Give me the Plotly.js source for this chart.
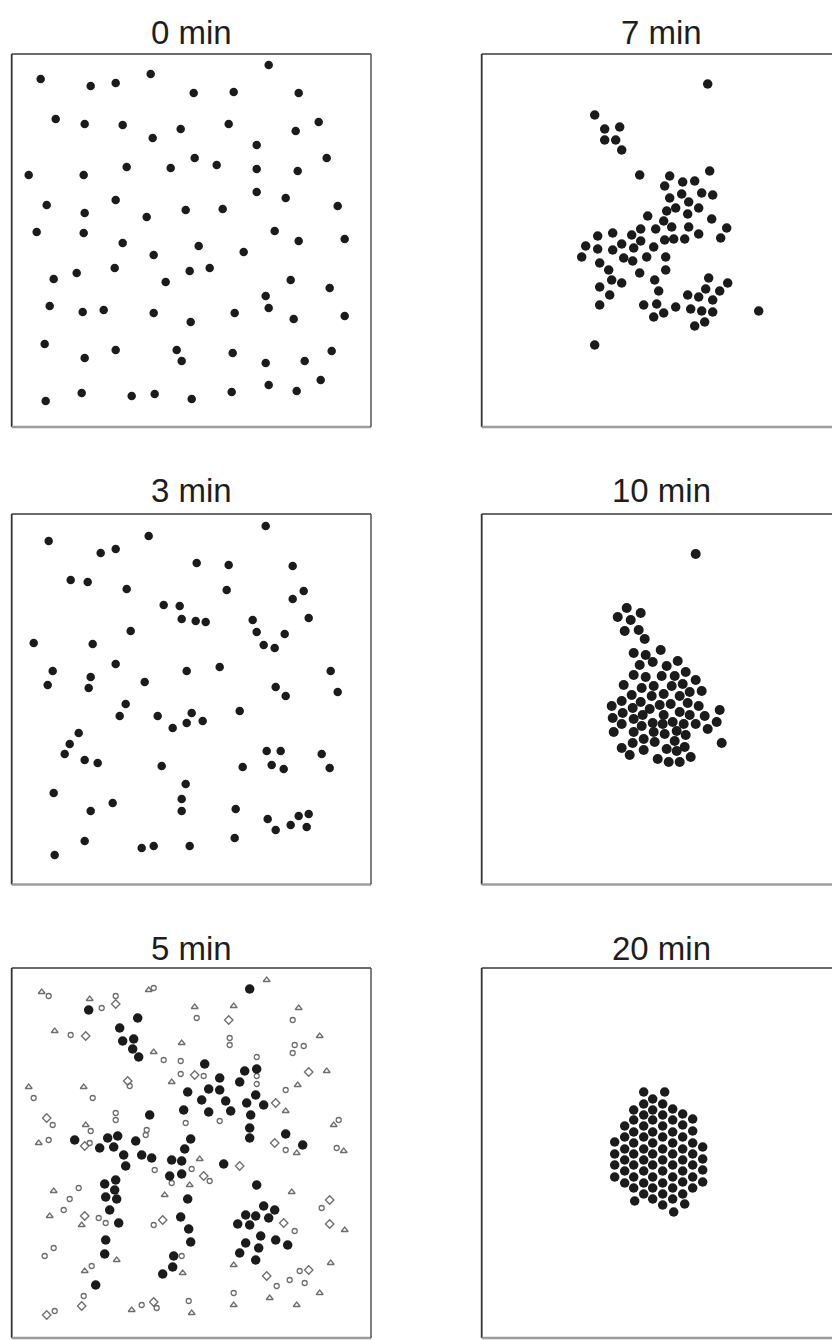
<!DOCTYPE html>
<html>
<head>
<meta charset="utf-8">
<script src="https://cdn.plot.ly/plotly-3.0.1.min.js"></script>
<style>
  html, body { margin: 0; padding: 0; background: #ffffff; overflow: hidden; }
  #chart { width: 832px; height: 1340px; }
</style>
</head>
<body>
<div id="chart"></div>
<script>
// Particle positions (µm from the top-left corner of each field of view)

// 0 min
const min0X = [29,79,104,139,257,182,222,287,44,73,111,169,141,217,284,307,245,183,115,159,
  205,245,286,315,17,72,35,73,104,135,174,211,245,274,326,25,72,111,142,187,
  232,263,287,333,42,65,103,154,178,198,279,318,254,257,38,71,92,142,179,223,
  282,333,33,73,104,165,170,221,254,293,320,309,257,285,34,70,120,143,180,220];
const min0Y = [25,32,29,20,11,39,38,39,65,70,71,75,84,70,77,68,91,104,113,114,
  111,115,117,104,121,121,151,159,146,163,156,155,138,144,152,178,179,189,201,192,
  198,177,187,185,225,219,214,228,217,214,226,234,242,254,252,258,256,259,268,259,
  265,262,290,304,296,296,307,299,309,307,297,326,331,337,347,339,342,340,345,338];

// 3 min
const min3X = [37,89,104,137,254,185,217,281,59,76,115,215,281,292,152,168,170,184,194,241,
  297,119,245,273,252,263,22,81,104,41,36,79,77,133,175,208,319,264,274,326,
  114,108,146,180,175,191,161,228,67,58,53,73,86,150,231,255,269,260,272,310,
  318,42,79,101,174,170,170,224,256,264,279,287,297,295,73,43,130,142,178,223];
const min3Y = [27,39,35,22,12,49,51,52,66,68,75,76,85,77,91,92,105,107,108,106,
  104,117,118,120,131,134,129,130,150,157,171,163,174,168,157,153,157,173,182,178,
  190,202,202,199,209,207,214,197,219,230,240,246,249,252,253,237,237,251,255,240,
  254,279,297,289,270,285,297,295,305,316,311,302,300,313,327,341,334,332,332,324];

// 5 min: current positions
const min5X = [238,77,126,108,111,122,121,127,193,208,233,245,228,197,208,176,190,214,244,235,
  252,197,219,239,172,138,238,238,274,291,63,96,106,88,102,124,179,173,112,130,
  140,160,170,114,158,170,212,93,104,103,94,105,98,107,176,245,169,177,179,94,
  93,162,161,151,84,234,244,252,263,226,238,249,257,234,247,264,276,228,244];
const min5Y = [21,42,50,60,73,71,81,89,96,110,103,101,114,121,122,124,132,133,127,135,
  137,144,143,147,142,147,160,170,166,177,172,170,168,180,179,173,171,181,187,187,
  190,192,193,198,208,206,196,216,212,222,229,231,242,255,231,217,249,261,274,272,
  286,288,299,306,317,247,248,238,242,256,257,268,250,275,280,272,277,285,292];

// 5 min: earlier positions, drawn as small open symbols
const min5TriX = [30,78,137,255,183,222,287,43,170,308,142,72,17,160,286,315,274,74,27,285,
  322,332,188,178,42,153,280,38,70,333,73,105,171,222,319,308,258,285,222,120,180];
const min5TriY = [24,31,22,12,39,38,40,63,75,68,84,119,119,114,117,103,143,157,175,185,
  157,183,191,217,223,227,224,248,257,262,303,292,305,297,295,325,330,337,337,342,345];
const min5RingX = [37,90,104,142,185,281,59,218,218,283,292,281,152,169,245,118,81,22,169,192,
  245,245,274,104,104,41,79,174,208,135,134,37,78,274,327,325,143,180,198,160,
  67,58,52,87,94,142,283,310,33,42,80,170,288,265,278,293,222,72,43,130,145,177];
const min5RingY = [28,40,28,20,50,52,67,70,77,77,78,85,92,93,89,118,130,130,106,108,
  116,108,122,145,152,157,163,155,153,162,167,172,175,182,152,180,202,201,213,215,
  220,231,242,250,255,257,263,240,288,280,298,288,303,318,312,315,325,328,343,337,340,333];
const min5DiamX = [104,217,74,116,183,297,264,35,73,263,228,192,73,151,272,318,318,255,297,70,35,142];
const min5DiamY = [36,52,68,113,107,104,135,150,178,175,198,208,248,252,255,232,256,308,302,338,347,334];

// 7 min
const min7X = [226,113,123,138,123,134,140,277,113,
  158,188,183,201,213,228,188,200,207,220,231,194,185,206,217,166,182,230,190,174,
  207,245,239,217,203,192,183,159,150,131,116,104,116,131,140,159,152,172,100,118,
  142,151,165,184,127,130,140,158,184,173,118,128,177,118,162,175,172,182,194,206,
  217,227,224,238,246,231,209,220,231,213,223];
const min7Y = [30,61,75,73,86,86,96,257,291,
  121,122,132,128,127,117,144,140,148,139,141,154,157,160,154,162,167,165,173,175,
  173,174,184,180,185,185,186,175,181,179,182,192,195,196,190,187,194,193,203,209,
  204,207,203,203,216,226,229,219,216,226,233,241,237,251,251,250,263,259,253,241,
  243,224,235,237,229,246,255,257,258,272,268];

// 10 min
const min10X = [214,145,136,159,149,143,157,163,
  152,164,179,158,171,185,196,152,164,180,193,204,142,160,172,190,201,214,150,170,
  182,198,208,220,130,140,151,159,168,178,189,206,217,238,131,141,152,161,182,198,
  208,223,235,140,160,171,181,191,202,214,226,132,152,172,183,195,204,151,162,173,
  193,240,140,148,162,185,195,203,176,187,198,209];
const min10Y = [40,94,103,99,106,117,116,125,
  139,141,136,151,148,152,147,161,163,162,162,158,171,174,172,172,170,166,181,182,
  180,182,178,177,192,187,194,188,195,191,190,189,192,196,204,199,205,201,201,198,
  201,202,208,210,212,209,210,208,210,210,215,218,218,218,220,217,221,229,225,228,
  227,229,234,241,236,235,237,233,245,248,248,243];

// 20 min
const min20X = [162,183,171,162,181,152,171,191,162,181,201,152,171,191,211,143,162,181,201,
  152,171,191,211,143,162,181,201,133,152,171,191,211,143,162,181,201,221,133,152,171,
  191,211,143,162,181,201,221,133,152,171,191,211,143,162,181,201,221,133,152,171,
  191,211,143,162,181,201,221,152,171,191,211,162,181,201,153,171,191,181,203,192];
const min20Y = [124,124,131,136,136,142,142,141,147,147,146,152,152,152,151,158,158,158,157,
  164,164,164,163,169,169,169,169,174,175,175,175,175,181,181,181,181,179,186,186,186,
  186,186,192,192,192,192,191,197,197,197,197,197,203,203,203,203,202,209,209,209,
  209,209,215,215,215,214,214,220,220,220,220,226,226,226,233,231,231,237,236,244];

// ---- page geometry (pixels) ----
const PAGE_W = 832, PAGE_H = 1340;
const COL_L = [11.7, 371], COL_R = [481.7, 841];
const ROWS = [[54, 427], [514, 884.5], [968, 1338]];
const TITLE_Y = [33, 490, 948];

const DOT = '#1b1b1b';
const GHOST = '#6e6e6e';

const panels = [
  { title: '0 min',  col: COL_L, row: 0, layers: [{ x: min0X,  y: min0Y,  size: 8.5 }] },
  { title: '3 min',  col: COL_L, row: 1, layers: [{ x: min3X,  y: min3Y,  size: 8.5 }] },
  { title: '5 min',  col: COL_L, row: 2, layers: [
      { x: min5TriX,  y: min5TriY,  size: 6,   symbol: 'triangle-up-open', color: GHOST },
      { x: min5RingX, y: min5RingY, size: 5,   symbol: 'circle-open',      color: GHOST },
      { x: min5DiamX, y: min5DiamY, size: 6.5, symbol: 'diamond-open',     color: GHOST },
      { x: min5X,     y: min5Y,     size: 9.5 }
  ] },
  { title: '7 min',  col: COL_R, row: 0, layers: [{ x: min7X,  y: min7Y,  size: 9.5 }] },
  { title: '10 min', col: COL_R, row: 1, layers: [{ x: min10X, y: min10Y, size: 10 }] },
  { title: '20 min', col: COL_R, row: 2, layers: [{ x: min20X, y: min20Y, size: 9.5 }] }
];

const px = v => v / PAGE_W;
const py = v => 1 - v / PAGE_H;

const traces = [];
const shapes = [];
const annotations = [];
const layout = {
  width: PAGE_W, height: PAGE_H,
  margin: { l: 0, r: 0, t: 0, b: 0 },
  paper_bgcolor: '#ffffff', plot_bgcolor: '#ffffff',
  showlegend: false,
  shapes: shapes, annotations: annotations
};

panels.forEach((p, i) => {
  const n = i + 1;
  const xa = 'xaxis' + (n === 1 ? '' : n), ya = 'yaxis' + (n === 1 ? '' : n);
  const xr = 'x' + (n === 1 ? '' : n), yr = 'y' + (n === 1 ? '' : n);
  const [left, right] = p.col;
  const [top, bottom] = ROWS[p.row];
  const visRight = Math.min(right, PAGE_W);

  const axisBase = { showgrid: false, zeroline: false, showticklabels: false, ticks: '',
                     showline: false, fixedrange: true };
  layout[xa] = Object.assign({}, axisBase, {
    domain: [px(left), px(visRight)], range: [0, visRight - left], anchor: yr });
  layout[ya] = Object.assign({}, axisBase, {
    domain: [py(bottom), py(top)], range: [bottom - top, 0], anchor: xr });

  p.layers.forEach(L => {
    traces.push({
      type: 'scatter', mode: 'markers', x: L.x, y: L.y, xaxis: xr, yaxis: yr,
      hoverinfo: 'skip',
      marker: {
        size: L.size, symbol: L.symbol || 'circle', color: L.color || DOT,
        line: { width: L.symbol ? 1.3 : 0, color: L.color || DOT }
      }
    });
  });

  // frame: dark top/left/right edges, lighter heavier bottom edge
  const edge = (x0, y0, x1, y1, color, width) => shapes.push({
    type: 'line', xref: 'paper', yref: 'paper',
    x0: px(x0), y0: py(y0), x1: px(x1), y1: py(y1),
    line: { color: color, width: width }
  });
  edge(left, top, visRight, top, '#3a3a3a', 1.6);
  edge(left, top, left, bottom, '#333333', 1.8);
  edge(left, bottom, visRight, bottom, '#9c9c9c', 2.4);
  if (right <= PAGE_W) edge(right, top, right, bottom, '#555555', 1.5);

  annotations.push({
    text: p.title, xref: 'paper', yref: 'paper',
    x: px((left + right) / 2), y: py(TITLE_Y[p.row]),
    xanchor: 'center', yanchor: 'middle', showarrow: false,
    font: { family: 'Liberation Sans, Arial, sans-serif', size: 33, color: '#1e1e1e' }
  });
});

Plotly.newPlot('chart', traces, layout, { staticPlot: true, displayModeBar: false });
</script>
</body>
</html>
